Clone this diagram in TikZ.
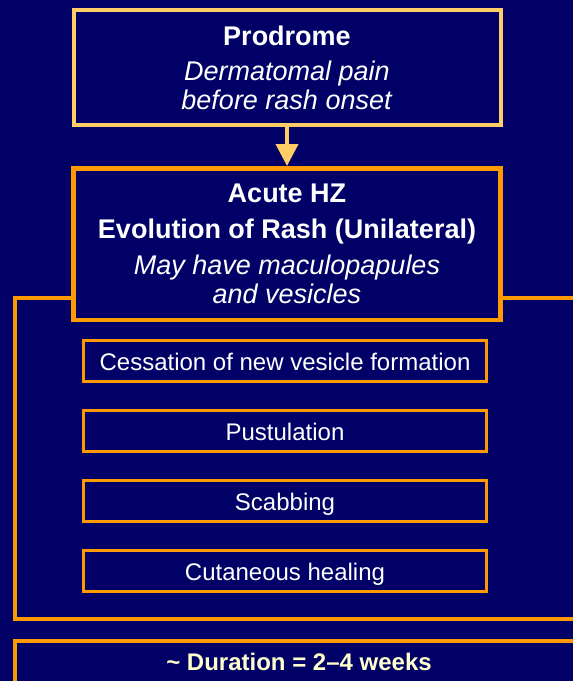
\documentclass[tikz,border=0pt]{standalone}
\usepackage{fontspec}
\setmainfont{Liberation Sans}
\usetikzlibrary{arrows.meta, positioning}
\definecolor{NightBlue}{RGB}{0, 0, 102}
\definecolor{PaleOrange}{RGB}{255, 204, 102}
\definecolor{DeepOrange}{RGB}{255, 153, 0}
\definecolor{PaleCream}{RGB}{255, 255, 204}

\begin{document}
\begin{tikzpicture}[
                    x=0.5pt, y=-0.5pt,
                    node distance=13pt,
                    phasebox/.style={rectangle, fill=NightBlue, text=white, align=center, minimum width=213.5pt, font=\fontsize{13.5}{14.6}\selectfont},
                    stagebox/.style={rectangle, draw=DeepOrange, line width=1.5pt, fill=NightBlue, text=white, minimum width=201.5pt, minimum height=20.5pt, text height=9pt, text depth=0pt, font=\fontsize{12}{14}\selectfont},
                    framebox/.style={draw=DeepOrange, line width=2pt}
                ]
                    \useasboundingbox (0,0) rectangle (573,681);
                    \clip (0,0) rectangle (573,681);
                    \fill[NightBlue] (0,0) rectangle (573,681);
                    \draw[framebox] (15,298) rectangle (600,618.5);

                    \node[phasebox, draw=PaleOrange, line width=2pt, minimum height=57.5pt] (prodrome) at (287,67.5) {\textbf{Prodrome}\\[2.9pt] \textit{Dermatomal pain}\\ \textit{before rash onset}};
                    \node[phasebox, draw=DeepOrange, line width=2.25pt, minimum height=75.75pt, below=19.5pt of prodrome] (acute) {\textbf{Acute HZ}\\[3.3pt] \textbf{Evolution of Rash (Unilateral)}\\[3.5pt] \textit{May have maculopapules}\\ \textit{and vesicles}};
                    \node[stagebox, below=8.5pt of acute, xshift=-1pt] (cessation) {Cessation of new vesicle formation};
                    \node[stagebox, below=of cessation] (pustulation) {Pustulation};
                    \node[stagebox, below=of pustulation] (scabbing) {Scabbing};
                    \node[stagebox, below=of scabbing] (healing) {Cutaneous healing};
                    \node[framebox, fill=NightBlue, text=PaleCream, minimum width=284pt, inner sep=0pt, text height=15pt, text depth=20pt, font=\fontsize{12}{14}\selectfont\bfseries] (duration) at (299,675.5) {\textasciitilde{} Duration = 2–4 weeks};

                    \draw[-{Triangle[width=11pt, length=11pt]}, PaleOrange, line width=2pt] (prodrome) -- (acute);
                \end{tikzpicture}
\end{document}
